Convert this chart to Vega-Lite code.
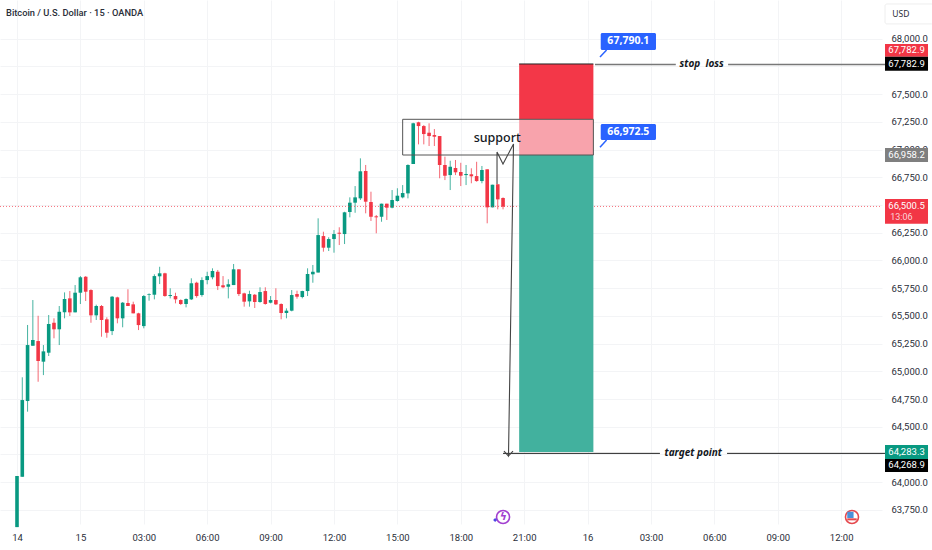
{
  "$schema": "https://vega.github.io/schema/vega-lite/v6.json",
  "description": "Bitcoin / U.S. Dollar 15 minute candles with a short position drawn on top.",
  "width": 882,
  "height": 524,
  "autosize": "none",
  "padding": {"left": 0, "top": 0, "right": 50, "bottom": 26},
  "background": "white",
  "datasets": {
    "bars": [
      {"bar":0,"open":63595,"high":64056,"low":63595,"close":64056},
      {"bar":1,"open":64049,"high":64946,"low":64049,"close":64741},
      {"bar":2,"open":64732,"high":65418,"low":64636,"close":65237},
      {"bar":3,"open":65231,"high":65643,"low":65231,"close":65282},
      {"bar":4,"open":65273,"high":65501,"low":64906,"close":65093},
      {"bar":5,"open":65087,"high":65237,"low":64966,"close":65180},
      {"bar":6,"open":65168,"high":65508,"low":65138,"close":65427},
      {"bar":7,"open":65438,"high":65478,"low":65298,"close":65379},
      {"bar":8,"open":65379,"high":65589,"low":65237,"close":65537},
      {"bar":9,"open":65532,"high":65712,"low":65478,"close":65652},
      {"bar":10,"open":65658,"high":65724,"low":65499,"close":65532},
      {"bar":11,"open":65532,"high":65778,"low":65532,"close":65709},
      {"bar":12,"open":65709,"high":65859,"low":65607,"close":65848},
      {"bar":13,"open":65853,"high":65859,"low":65634,"close":65718},
      {"bar":14,"open":65733,"high":65740,"low":65438,"close":65505},
      {"bar":15,"open":65505,"high":65601,"low":65463,"close":65589},
      {"bar":16,"open":65589,"high":65598,"low":65312,"close":65463},
      {"bar":17,"open":65469,"high":65487,"low":65303,"close":65348},
      {"bar":18,"open":65363,"high":65679,"low":65327,"close":65673},
      {"bar":19,"open":65667,"high":65673,"low":65433,"close":65478},
      {"bar":20,"open":65478,"high":65625,"low":65397,"close":65619},
      {"bar":21,"open":65616,"high":65740,"low":65589,"close":65589},
      {"bar":22,"open":65604,"high":65628,"low":65523,"close":65523},
      {"bar":23,"open":65523,"high":65528,"low":65372,"close":65417},
      {"bar":24,"open":65408,"high":65688,"low":65388,"close":65679},
      {"bar":25,"open":65691,"high":65703,"low":65637,"close":65697},
      {"bar":26,"open":65691,"high":65875,"low":65649,"close":65859},
      {"bar":27,"open":65857,"high":65943,"low":65787,"close":65884},
      {"bar":28,"open":65884,"high":65889,"low":65673,"close":65679},
      {"bar":29,"open":65679,"high":65749,"low":65658,"close":65688},
      {"bar":30,"open":65679,"high":65709,"low":65613,"close":65649},
      {"bar":31,"open":65643,"high":65649,"low":65598,"close":65607},
      {"bar":32,"open":65607,"high":65658,"low":65577,"close":65652},
      {"bar":33,"open":65649,"high":65839,"low":65643,"close":65794},
      {"bar":34,"open":65799,"high":65808,"low":65664,"close":65679},
      {"bar":35,"open":65688,"high":65848,"low":65673,"close":65823},
      {"bar":36,"open":65823,"high":65898,"low":65785,"close":65859},
      {"bar":37,"open":65848,"high":65929,"low":65830,"close":65905},
      {"bar":38,"open":65898,"high":65914,"low":65733,"close":65769},
      {"bar":39,"open":65776,"high":65859,"low":65749,"close":65758},
      {"bar":40,"open":65763,"high":65830,"low":65658,"close":65785},
      {"bar":41,"open":65778,"high":65968,"low":65778,"close":65920},
      {"bar":42,"open":65920,"high":65920,"low":65679,"close":65697},
      {"bar":43,"open":65703,"high":65709,"low":65583,"close":65628},
      {"bar":44,"open":65631,"high":65727,"low":65583,"close":65697},
      {"bar":45,"open":65691,"high":65697,"low":65571,"close":65625},
      {"bar":46,"open":65625,"high":65758,"low":65619,"close":65715},
      {"bar":47,"open":65724,"high":65758,"low":65601,"close":65607},
      {"bar":48,"open":65619,"high":65679,"low":65613,"close":65643},
      {"bar":49,"open":65643,"high":65749,"low":65598,"close":65604},
      {"bar":50,"open":65607,"high":65613,"low":65469,"close":65526},
      {"bar":51,"open":65526,"high":65568,"low":65478,"close":65547},
      {"bar":52,"open":65547,"high":65733,"low":65541,"close":65688},
      {"bar":53,"open":65697,"high":65727,"low":65655,"close":65673},
      {"bar":54,"open":65670,"high":65727,"low":65658,"close":65724},
      {"bar":55,"open":65724,"high":65929,"low":65679,"close":65878},
      {"bar":56,"open":65875,"high":65959,"low":65799,"close":65898},
      {"bar":57,"open":65891,"high":66380,"low":65891,"close":66229},
      {"bar":58,"open":66220,"high":66259,"low":66079,"close":66115},
      {"bar":59,"open":66115,"high":66209,"low":66085,"close":66193},
      {"bar":60,"open":66193,"high":66274,"low":66070,"close":66238},
      {"bar":61,"open":66250,"high":66299,"low":66139,"close":66241},
      {"bar":62,"open":66238,"high":66439,"low":66148,"close":66434},
      {"bar":63,"open":66437,"high":66569,"low":66389,"close":66521},
      {"bar":64,"open":66521,"high":66671,"low":66430,"close":66569},
      {"bar":65,"open":66560,"high":66921,"low":66545,"close":66804},
      {"bar":66,"open":66807,"high":66861,"low":66425,"close":66530},
      {"bar":67,"open":66527,"high":66620,"low":66356,"close":66394},
      {"bar":68,"open":66398,"high":66410,"low":66245,"close":66389},
      {"bar":69,"open":66394,"high":66512,"low":66349,"close":66512},
      {"bar":70,"open":66512,"high":66512,"low":66365,"close":66476},
      {"bar":71,"open":66476,"high":66635,"low":66470,"close":66545},
      {"bar":72,"open":66536,"high":66651,"low":66530,"close":66584},
      {"bar":73,"open":66569,"high":66680,"low":66560,"close":66608},
      {"bar":74,"open":66605,"high":66867,"low":66560,"close":66861},
      {"bar":75,"open":66870,"high":67242,"low":66870,"close":67237},
      {"bar":76,"open":67246,"high":67251,"low":67047,"close":67212},
      {"bar":77,"open":67212,"high":67221,"low":67047,"close":67140},
      {"bar":78,"open":67152,"high":67237,"low":67032,"close":67122},
      {"bar":79,"open":67131,"high":67185,"low":67032,"close":67116},
      {"bar":80,"open":67122,"high":67122,"low":66741,"close":66861},
      {"bar":81,"open":66861,"high":66936,"low":66725,"close":66764},
      {"bar":82,"open":66770,"high":66899,"low":66635,"close":66845},
      {"bar":83,"open":66834,"high":66906,"low":66770,"close":66795},
      {"bar":84,"open":66798,"high":66881,"low":66671,"close":66764},
      {"bar":85,"open":66770,"high":66861,"low":66680,"close":66780},
      {"bar":86,"open":66777,"high":66831,"low":66696,"close":66759},
      {"bar":87,"open":66761,"high":66890,"low":66710,"close":66716},
      {"bar":88,"open":66716,"high":66852,"low":66696,"close":66816},
      {"bar":89,"open":66822,"high":66822,"low":66335,"close":66479},
      {"bar":90,"open":66479,"high":66683,"low":66479,"close":66683},
      {"bar":91,"open":66687,"high":66687,"low":66461,"close":66551},
      {"bar":92,"open":66563,"high":66569,"low":66461,"close":66485}
    ],
    "zones": [
      {"zone":"risk","from":95.05,"to":109.1,"top":67772,"bottom":67273},
      {"zone":"overlap","from":95.05,"to":109.1,"top":67273,"bottom":66951},
      {"zone":"reward","from":95.05,"to":109.1,"top":66951,"bottom":64272}
    ],
    "tags": [
      {"text":"67,782.9","kind":"red","from":164.3,"to":172.44,"center":168.37,"top":67952,"bottom":67838,"mid":67895},
      {"text":"67,782.9","kind":"black","from":164.3,"to":172.44,"center":168.37,"top":67838,"bottom":67711,"mid":67774},
      {"text":"66,958.2","kind":"gray","from":164.3,"to":172.44,"center":168.37,"top":67014,"bottom":66888,"mid":66951},
      {"text":"66,500.5","kind":"red","from":164.3,"to":172.44,"center":168.37,"top":66554,"bottom":66331,"mid":66491},
      {"text":"64,283.3","kind":"green","from":164.3,"to":172.44,"center":168.37,"top":64335,"bottom":64209,"mid":64272},
      {"text":"64,268.9","kind":"black","from":164.3,"to":172.44,"center":168.37,"top":64209,"bottom":64092,"mid":64155}
    ],
    "callouts": [
      {"text":"67,790.1","from":110.49,"to":120.95,"top":68051,"bottom":67898,"mid":67975,"center":115.72},
      {"text":"66,972.5","from":110.49,"to":120.95,"top":67231,"bottom":67086,"mid":67158,"center":115.72}
    ],
    "tails": [
      {"from":110.35,"to":111.6,"low":67835,"high":67898},
      {"from":110.35,"to":111.6,"low":67020,"high":67086}
    ],
    "path": [
      {"seq":1,"bar":90.86,"price":66689},
      {"seq":2,"bar":90.86,"price":66978},
      {"seq":3,"bar":91.99,"price":66870},
      {"seq":4,"bar":93.98,"price":67050},
      {"seq":5,"bar":93.03,"price":64236},
      {"seq":6,"bar":92.18,"price":64281},
      {"seq":7,"bar":93.03,"price":64236},
      {"seq":8,"bar":93.88,"price":64281}
    ]
  },
  "data": {"name": "bars"},
  "layer": [
    {
      "mark": {"type": "rule", "strokeWidth": 1, "opacity": 0.75},
      "encoding": {
        "x": {
          "field": "bar",
          "type": "quantitative",
          "title": null,
          "scale": {"domain": [-3.218, 163.73], "nice": false, "zero": false, "padding": 0},
          "axis": {
            "values": [0, 12, 24, 36, 48, 60, 72, 84, 96, 108, 120, 132, 144, 156],
            "labelExpr": "['14','15','03:00','06:00','09:00','12:00','15:00','18:00','21:00','16','03:00','06:00','09:00','12:00'][datum.value / 12]",
            "grid": true,
            "gridColor": "#f3f4f6",
            "domain": false,
            "ticks": false,
            "labelPadding": 8,
            "labelFontSize": 9.5,
            "labelFont": "Roboto",
            "labelColor": "#2a2e39",
            "labelFlush": false,
            "labelOverlap": false
          }
        },
        "y": {
          "field": "low",
          "type": "quantitative",
          "title": null,
          "scale": {"domain": [63623, 68349], "nice": false, "zero": false},
          "axis": {
            "orient": "right",
            "tickCount": 30,
            "values": [63750, 64000, 64250, 64500, 64750, 65000, 65250, 65500, 65750, 66000, 66250, 66500, 66750, 67000, 67250, 67500, 67750, 68000],
            "labelExpr": "indexof([64250, 66500, 67750], datum.value) >= 0 ? '' : format(datum.value, ',.1f')",
            "grid": true,
            "gridColor": "#f3f4f6",
            "domain": false,
            "ticks": false,
            "labelPadding": 9,
            "labelFontSize": 9.5,
            "labelFont": "Roboto",
            "labelColor": "#2a2e39",
            "labelOverlap": false
          }
        },
        "y2": {"field": "high"},
        "color": {
          "condition": {"test": "datum.close >= datum.open", "value": "#089981"},
          "value": "#F23645"
        }
      }
    },
    {
      "mark": {"type": "bar", "size": 3.6, "orient": "vertical"},
      "encoding": {
        "x": {"field": "bar", "type": "quantitative"},
        "y": {"field": "open", "type": "quantitative"},
        "y2": {"field": "close"},
        "color": {
          "condition": {"test": "datum.close >= datum.open", "value": "#089981"},
          "value": "#F23645"
        }
      }
    },
    {
      "data": {"values": [{"price": 66487, "from": -3.218, "to": 163.73}]},
      "mark": {"type": "rule", "stroke": "#F23645", "strokeWidth": 1, "strokeDash": [1, 2], "opacity": 0.7},
      "encoding": {
        "x": {"field": "from", "type": "quantitative"},
        "x2": {"field": "to"},
        "y": {"field": "price", "type": "quantitative"}
      }
    },
    {
      "data": {"name": "zones"},
      "mark": {"type": "rect"},
      "encoding": {
        "x": {"field": "from", "type": "quantitative"},
        "x2": {"field": "to"},
        "y": {"field": "top", "type": "quantitative"},
        "y2": {"field": "bottom"},
        "color": {
          "field": "zone",
          "type": "nominal",
          "legend": null,
          "scale": {"domain": ["risk", "overlap", "reward"], "range": ["#F33748", "#F8A3AC", "#42B19E"]}
        }
      }
    },
    {
      "data": {"values": [{"from": 73, "to": 109.1, "top": 67273, "bottom": 66951}]},
      "mark": {"type": "rect", "fillOpacity": 0, "stroke": "#555555", "strokeWidth": 1},
      "encoding": {
        "x": {"field": "from", "type": "quantitative"},
        "x2": {"field": "to"},
        "y": {"field": "top", "type": "quantitative"},
        "y2": {"field": "bottom"}
      }
    },
    {
      "data": {"values": [
        {"from": 109.4, "to": 124.7, "price": 67768},
        {"from": 134.6, "to": 164.3, "price": 67768}
      ]},
      "mark": {"type": "rule", "color": "#787878", "strokeWidth": 1.5},
      "encoding": {
        "x": {"field": "from", "type": "quantitative"},
        "x2": {"field": "to"},
        "y": {"field": "price", "type": "quantitative"}
      }
    },
    {
      "data": {"values": [
        {"from": 95.05, "to": 109.1, "price": 67772},
        {"from": 92, "to": 121.7, "price": 64260},
        {"from": 134.4, "to": 164.3, "price": 64260}
      ]},
      "mark": {"type": "rule", "color": "#222222", "strokeWidth": 1},
      "encoding": {
        "x": {"field": "from", "type": "quantitative"},
        "x2": {"field": "to"},
        "y": {"field": "price", "type": "quantitative"}
      }
    },
    {
      "data": {"name": "path"},
      "mark": {"type": "line", "color": "#444444", "strokeWidth": 1.1},
      "encoding": {
        "x": {"field": "bar", "type": "quantitative"},
        "y": {"field": "price", "type": "quantitative"},
        "order": {"field": "seq", "type": "quantitative"}
      }
    },
    {
      "data": {"values": [
        {"text": "stop\u00a0\u00a0loss", "bar": 129.6, "price": 67770},
        {"text": "target point", "bar": 128, "price": 64262}
      ]},
      "mark": {"type": "text", "font": "Noto Sans", "fontSize": 10, "fontWeight": "bold", "fontStyle": "italic", "color": "#131722"},
      "encoding": {
        "x": {"field": "bar", "type": "quantitative"},
        "y": {"field": "price", "type": "quantitative"},
        "text": {"field": "text"}
      }
    },
    {
      "data": {"values": [{"text": "support", "bar": 90.9, "price": 67100}]},
      "mark": {"type": "text", "font": "Noto Sans", "fontSize": 12.5, "fontWeight": 500, "color": "#131722"},
      "encoding": {
        "x": {"field": "bar", "type": "quantitative"},
        "y": {"field": "price", "type": "quantitative"},
        "text": {"field": "text"}
      }
    },
    {
      "data": {"name": "tails"},
      "mark": {"type": "rule", "color": "#2962FF", "strokeWidth": 1.5},
      "encoding": {
        "x": {"field": "from", "type": "quantitative"},
        "x2": {"field": "to"},
        "y": {"field": "low", "type": "quantitative"},
        "y2": {"field": "high"}
      }
    },
    {
      "data": {"name": "callouts"},
      "mark": {"type": "rect", "color": "#2962FF", "cornerRadius": 1.5},
      "encoding": {
        "x": {"field": "from", "type": "quantitative"},
        "x2": {"field": "to"},
        "y": {"field": "top", "type": "quantitative"},
        "y2": {"field": "bottom"}
      }
    },
    {
      "data": {"name": "callouts"},
      "mark": {"type": "text", "font": "Noto Sans", "fontSize": 10.5, "fontWeight": "bold", "color": "white"},
      "encoding": {
        "x": {"field": "center", "type": "quantitative"},
        "y": {"field": "mid", "type": "quantitative"},
        "text": {"field": "text"}
      }
    },
    {
      "data": {"name": "tags"},
      "mark": {"type": "rect"},
      "encoding": {
        "x": {"field": "from", "type": "quantitative"},
        "x2": {"field": "to"},
        "y": {"field": "top", "type": "quantitative"},
        "y2": {"field": "bottom"},
        "color": {
          "field": "kind",
          "type": "nominal",
          "legend": null,
          "scale": {"domain": ["red", "black", "gray", "green"], "range": ["#F23645", "#000000", "#7F7F7F", "#089981"]}
        }
      }
    },
    {
      "data": {"name": "tags"},
      "mark": {"type": "text", "font": "Roboto", "fontSize": 9.5, "color": "white"},
      "encoding": {
        "x": {"field": "center", "type": "quantitative"},
        "y": {"field": "mid", "type": "quantitative"},
        "text": {"field": "text"}
      }
    },
    {
      "data": {"values": [{"text": "13:06", "bar": 167.4, "price": 66395}]},
      "mark": {"type": "text", "font": "Roboto", "fontSize": 9, "color": "#FBD5D9"},
      "encoding": {
        "x": {"field": "bar", "type": "quantitative"},
        "y": {"field": "price", "type": "quantitative"},
        "text": {"field": "text"}
      }
    },
    {
      "data": {"values": [{"text": "Bitcoin / U.S. Dollar · 15 · OANDA", "bar": -2.08, "price": 68232}]},
      "mark": {"type": "text", "align": "left", "font": "Roboto", "fontSize": 9.3, "fontWeight": 500, "color": "#2a2e39"},
      "encoding": {
        "x": {"field": "bar", "type": "quantitative"},
        "y": {"field": "price", "type": "quantitative"},
        "text": {"field": "text"}
      }
    },
    {
      "data": {"values": [{"from": 164.3, "to": 173.5, "top": 68313, "bottom": 68133}]},
      "mark": {"type": "rect", "fillOpacity": 0, "stroke": "#eeeeee", "strokeWidth": 1, "cornerRadius": 2},
      "encoding": {
        "x": {"field": "from", "type": "quantitative"},
        "x2": {"field": "to"},
        "y": {"field": "top", "type": "quantitative"},
        "y2": {"field": "bottom"}
      }
    },
    {
      "data": {"values": [{"text": "USD", "bar": 167.3, "price": 68227}]},
      "mark": {"type": "text", "font": "Noto Sans", "fontSize": 8.5, "color": "#2a2e39"},
      "encoding": {
        "x": {"field": "bar", "type": "quantitative"},
        "y": {"field": "price", "type": "quantitative"},
        "text": {"field": "text"}
      }
    },
    {
      "data": {"values": [
        {"icon": "alert", "bar": 92, "price": 63686},
        {"icon": "flag", "bar": 158.05, "price": 63686}
      ]},
      "mark": {"type": "point", "filled": false, "size": 170, "strokeWidth": 1.6, "fill": "white", "fillOpacity": 1},
      "encoding": {
        "x": {"field": "bar", "type": "quantitative"},
        "y": {"field": "price", "type": "quantitative"},
        "stroke": {
          "field": "icon",
          "type": "nominal",
          "legend": null,
          "scale": {"domain": ["alert", "flag"], "range": ["#A23FD0", "#E5484D"]}
        }
      }
    },
    {
      "data": {"values": [{"text": "ϟ", "bar": 92.05, "price": 63686}]},
      "mark": {"type": "text", "font": "DejaVu Sans", "fontSize": 11, "fontWeight": "bold", "color": "#A23FD0"},
      "encoding": {
        "x": {"field": "bar", "type": "quantitative"},
        "y": {"field": "price", "type": "quantitative"},
        "text": {"field": "text"}
      }
    },
    {
      "data": {"values": [{"bar": 90.5, "price": 63659}]},
      "mark": {"type": "point", "shape": "diamond", "filled": true, "size": 16, "color": "#4F46E5", "opacity": 1},
      "encoding": {
        "x": {"field": "bar", "type": "quantitative"},
        "y": {"field": "price", "type": "quantitative"}
      }
    },
    {
      "data": {"values": [{"bar": 157.75, "price": 63705}]},
      "mark": {"type": "point", "shape": "square", "filled": true, "size": 40, "color": "#4A90D9", "opacity": 1},
      "encoding": {
        "x": {"field": "bar", "type": "quantitative"},
        "y": {"field": "price", "type": "quantitative"}
      }
    },
    {
      "data": {"values": [{"bar": 158.05, "price": 63665}]},
      "mark": {"type": "point", "shape": "stroke", "size": 90, "strokeWidth": 2, "color": "#E5484D", "opacity": 1},
      "encoding": {
        "x": {"field": "bar", "type": "quantitative"},
        "y": {"field": "price", "type": "quantitative"}
      }
    }
  ],
  "resolve": {"scale": {"color": "independent", "stroke": "independent"}},
  "config": {"view": {"stroke": null}}
}
